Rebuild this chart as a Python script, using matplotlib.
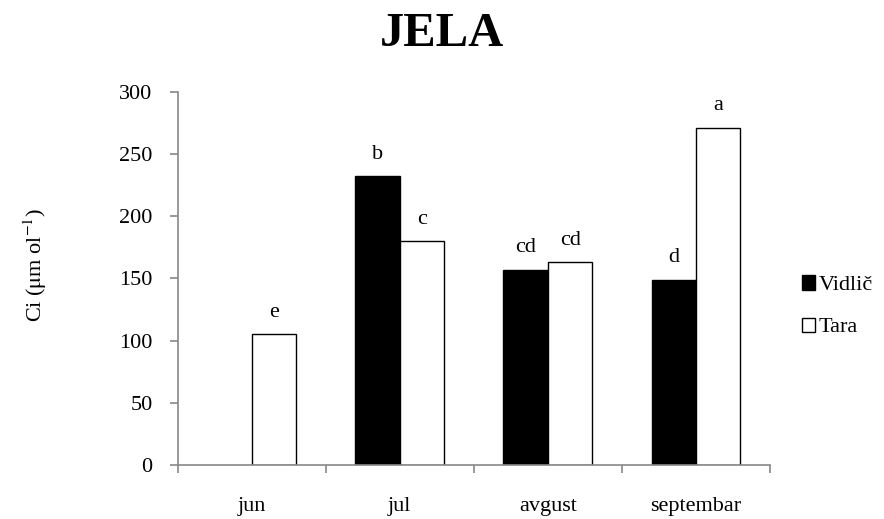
import matplotlib
matplotlib.use("Agg")
import matplotlib.pyplot as plt
import numpy as np

categories = ["jun", "jul", "avgust", "septembar"]
vidlic = [np.nan, 232, 157, 149]
tara = [105, 180, 163, 271]
vidlic_letters = ["", "b", "cd", "d"]
tara_letters = ["e", "c", "cd", "a"]
yticks = [0, 50, 100, 150, 200, 250, 300]

plt.rcParams['font.family'] = ['Liberation Serif', 'DejaVu Serif']
plt.rcParams['mathtext.fontset'] = 'stix'

fs = 16
fig = plt.figure(figsize=(8.84, 5.19), dpi=100)
ax = fig.add_axes([0.201, 0.104, 0.670, 0.719])

x = np.arange(len(categories))
w = 0.3
ax.bar(x - w/2, vidlic, w, color='black', edgecolor='black', linewidth=1, label='Vidlič')
ax.bar(x + w/2, tara, w, color='white', edgecolor='black', linewidth=1, label='Tara')

for i in range(len(categories)):
    if not np.isnan(vidlic[i]):
        ax.text(x[i] - w/2, vidlic[i] + 10, vidlic_letters[i], ha='center', va='bottom', fontsize=fs)
    ax.text(x[i] + w/2, tara[i] + 10, tara_letters[i], ha='center', va='bottom', fontsize=fs)

ax.set_xlim(-0.5, len(categories) - 0.5)
ax.set_ylim(0, 300)
ax.set_yticks(yticks)
ax.set_xticks(x)
ax.set_xticklabels(categories, fontsize=fs)
ax.tick_params(axis='x', length=0, pad=23)
ax.set_xticks(np.arange(-0.5, len(categories)), minor=True)
ax.tick_params(axis='x', which='minor', length=6, color='#888888', width=1.2)
ax.tick_params(axis='y', labelsize=fs, length=6, color='#888888', width=1.2, pad=12)

for s in ['top', 'right']:
    ax.spines[s].set_visible(False)
for s in ['left', 'bottom']:
    ax.spines[s].set_color('#888888')
    ax.spines[s].set_linewidth(1.2)

fig.text(35/884, 1 - 265/519, r"Ci ($\mathrm{\mu}$m ol$^{\mathrm{-1}}$)", fontsize=fs,
         rotation=90, ha='center', va='center')
fig.text(0.5, 1 - 34/519, "JELA", fontsize=35, fontweight='bold', ha='center', va='center')

leg = ax.legend(loc='center left', bbox_to_anchor=(1.02, 0.425), frameon=False,
                fontsize=fs, handlelength=0.6, handleheight=0.6, handletextpad=0.15,
                labelspacing=1.0)

fig.savefig("out.png", dpi=100)
